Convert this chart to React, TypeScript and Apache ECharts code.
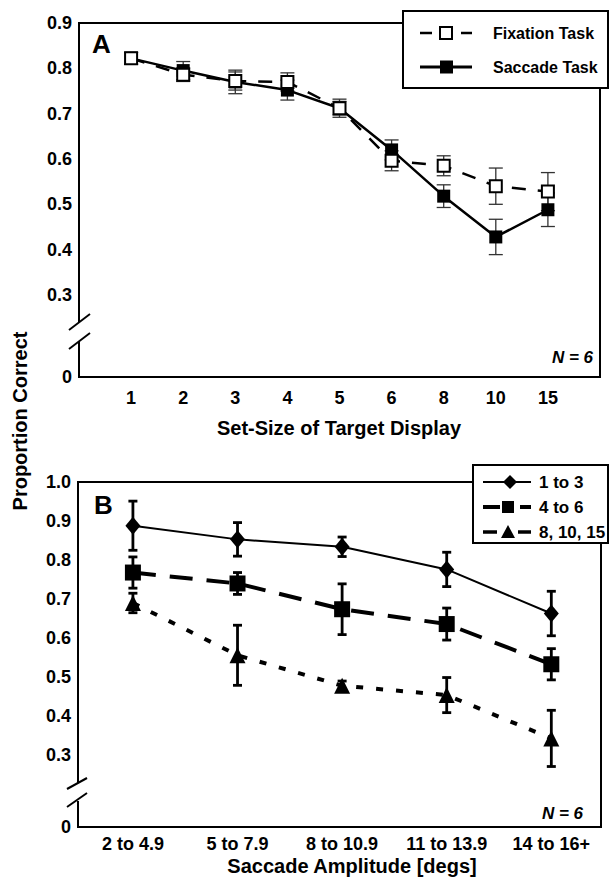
import React, { useEffect, useRef } from "react";
import * as echarts from "echarts";

// ---------- Panel A data ----------
const setSizes = ["1", "2", "3", "4", "5", "6", "8", "10", "15"];
const fixationMean = [0.822, 0.786, 0.772, 0.77, 0.712, 0.596, 0.585, 0.54, 0.528];
const fixationErr = [0.013, 0.015, 0.02, 0.02, 0.015, 0.022, 0.022, 0.04, 0.042];
const saccadeMean = [0.822, 0.795, 0.77, 0.752, 0.712, 0.62, 0.518, 0.428, 0.488];
const saccadeErr = [0.013, 0.02, 0.026, 0.022, 0.02, 0.022, 0.025, 0.039, 0.037];

// ---------- Panel B data ----------
const amplitudes = ["2 to 4.9", "5 to 7.9", "8 to 10.9", "11 to 13.9", "14 to 16+"];
const small13Mean = [0.888, 0.853, 0.834, 0.776, 0.663];
const small13Err = [0.063, 0.043, 0.025, 0.044, 0.057];
const mid46Mean = [0.768, 0.74, 0.674, 0.636, 0.533];
const mid46Err = [0.04, 0.028, 0.065, 0.041, 0.04];
const large81015Mean = [0.69, 0.556, 0.478, 0.454, 0.343];
const large81015Err = [0.025, 0.077, 0.012, 0.045, 0.072];

// ---------- tick labels ----------
const yTicksA = [0.3, 0.4, 0.5, 0.6, 0.7, 0.8, 0.9];
const yTicksB = [0.3, 0.4, 0.5, 0.6, 0.7, 0.8, 0.9, 1.0];
const zeroLabel = "0";
const yBreakMinA = 0.119; // drawn position of the "0" after the axis break
const yBreakMinB = 0.116;

const FONT = "'Liberation Sans', Arial, Helvetica, sans-serif";

function errRender(capHalf: number, width: number, color: string) {
  return (params: any, api: any) => {
    const x = api.value(0);
    const lo = api.coord([x, api.value(1)]);
    const hi = api.coord([x, api.value(2)]);
    const style = { stroke: color, lineWidth: width, fill: "none" };
    return {
      type: "group",
      children: [
        { type: "line", shape: { x1: lo[0], y1: lo[1], x2: hi[0], y2: hi[1] }, style },
        { type: "line", shape: { x1: lo[0] - capHalf, y1: lo[1], x2: lo[0] + capHalf, y2: lo[1] }, style },
        { type: "line", shape: { x1: hi[0] - capHalf, y1: hi[1], x2: hi[0] + capHalf, y2: hi[1] }, style },
      ],
    };
  };
}

function txt(text: string, x: number, y: number, size: number, align = "left", extra: any = {}) {
  return {
    type: "text",
    x,
    y,
    z: 120,
    ...extra,
    style: {
      text,
      fill: "#000",
      font: `${extra.italic ? "italic " : ""}bold ${size}px ${FONT}`,
      align,
      verticalAlign: "middle",
      textAlign: align,
      textVerticalAlign: "middle",
    },
  };
}

function ln(x1: number, y1: number, x2: number, y2: number, w: number, z = 110) {
  return { type: "line", z, shape: { x1, y1, x2, y2 }, style: { stroke: "#000", lineWidth: w } };
}

export default function App() {
  const ref = useRef<HTMLDivElement>(null);

  useEffect(() => {
    if (!ref.current) return;
    const chart = echarts.init(ref.current, null, { renderer: "svg" });

    const xLabelStyle = { fontFamily: FONT, fontWeight: "bold", fontSize: 18, color: "#000" };

    const option: any = {
      animation: false,
      backgroundColor: "#fff",
      grid: [
        { left: 79, top: 23, width: 521, height: 354, show: true, borderColor: "#000", borderWidth: 2, backgroundColor: "transparent" },
        { left: 78, top: 482, width: 523, height: 345, show: true, borderColor: "#000", borderWidth: 2, backgroundColor: "transparent" },
      ],
      xAxis: [
        {
          gridIndex: 0,
          type: "value",
          min: 0,
          max: setSizes.length + 1,
          axisLine: { show: false },
          axisTick: { show: false },
          splitLine: { show: false },
          axisLabel: {
            ...xLabelStyle,
            margin: 12,
            customValues: setSizes.map((_, i) => i + 1),
            formatter: (v: number) => setSizes[Math.round(v) - 1] ?? "",
          },
        },
        {
          gridIndex: 1,
          type: "value",
          min: -0.525,
          max: amplitudes.length - 0.525,
          axisLine: { show: false },
          axisTick: { show: false },
          splitLine: { show: false },
          axisLabel: {
            ...xLabelStyle,
            margin: 8,
            customValues: amplitudes.map((_, i) => i),
            formatter: (v: number) => amplitudes[Math.round(v)] ?? "",
          },
        },
      ],
      yAxis: [
        {
          gridIndex: 0,
          type: "value",
          min: yBreakMinA,
          max: 0.9,
          axisLine: { show: false },
          axisTick: { show: false },
          splitLine: { show: false },
          axisLabel: {
            ...xLabelStyle,
            margin: 7,
            customValues: [yBreakMinA, ...yTicksA],
            formatter: (v: number) => (v < 0.2 ? zeroLabel : v.toFixed(1)),
          },
        },
        {
          gridIndex: 1,
          type: "value",
          min: yBreakMinB,
          max: 1.0,
          axisLine: { show: false },
          axisTick: { show: false },
          splitLine: { show: false },
          axisLabel: {
            ...xLabelStyle,
            margin: 7,
            customValues: [yBreakMinB, ...yTicksB],
            formatter: (v: number) => (v < 0.2 ? zeroLabel : v.toFixed(1)),
          },
        },
      ],
      series: [
        // ---- Panel A ----
        {
          type: "custom",
          xAxisIndex: 0,
          yAxisIndex: 0,
          z: 1,
          renderItem: errRender(7, 1.3, "#333"),
          encode: { x: 0, y: [1, 2] },
          data: saccadeMean.map((m, i) => [i + 1, m - saccadeErr[i], m + saccadeErr[i]]),
        },
        {
          type: "custom",
          xAxisIndex: 0,
          yAxisIndex: 0,
          z: 1,
          renderItem: errRender(7, 1.3, "#333"),
          encode: { x: 0, y: [1, 2] },
          data: fixationMean.map((m, i) => [i + 1, m - fixationErr[i], m + fixationErr[i]]),
        },
        {
          name: "Saccade Task",
          type: "line",
          xAxisIndex: 0,
          yAxisIndex: 0,
          z: 3,
          data: saccadeMean.map((m, i) => [i + 1, m]),
          symbol: "rect",
          symbolSize: 13,
          lineStyle: { color: "#000", width: 2.5 },
          itemStyle: { color: "#000" },
        },
        {
          name: "Fixation Task",
          type: "line",
          xAxisIndex: 0,
          yAxisIndex: 0,
          z: 4,
          data: fixationMean.map((m, i) => [i + 1, m]),
          symbol: "rect",
          symbolSize: 12,
          lineStyle: { color: "#000", width: 2.5, type: [14, 12] },
          itemStyle: { color: "#fff", borderColor: "#000", borderWidth: 2 },
        },
        // ---- Panel B ----
        {
          type: "custom",
          xAxisIndex: 1,
          yAxisIndex: 1,
          z: 1,
          renderItem: errRender(4.5, 2.8, "#000"),
          encode: { x: 0, y: [1, 2] },
          data: small13Mean.map((m, i) => [i, m - small13Err[i], m + small13Err[i]]),
        },
        {
          type: "custom",
          xAxisIndex: 1,
          yAxisIndex: 1,
          z: 1,
          renderItem: errRender(4.5, 2.8, "#000"),
          encode: { x: 0, y: [1, 2] },
          data: mid46Mean.map((m, i) => [i, m - mid46Err[i], m + mid46Err[i]]),
        },
        {
          type: "custom",
          xAxisIndex: 1,
          yAxisIndex: 1,
          z: 1,
          renderItem: errRender(4.5, 2.8, "#000"),
          encode: { x: 0, y: [1, 2] },
          data: large81015Mean.map((m, i) => [i, m - large81015Err[i], m + large81015Err[i]]),
        },
        {
          name: "1 to 3",
          type: "line",
          xAxisIndex: 1,
          yAxisIndex: 1,
          z: 3,
          data: small13Mean.map((m, i) => [i, m]),
          symbol: "diamond",
          symbolSize: [15, 18],
          lineStyle: { color: "#000", width: 2 },
          itemStyle: { color: "#000" },
        },
        {
          name: "4 to 6",
          type: "line",
          xAxisIndex: 1,
          yAxisIndex: 1,
          z: 3,
          data: mid46Mean.map((m, i) => [i, m]),
          symbol: "rect",
          symbolSize: 16,
          lineStyle: { color: "#000", width: 4, type: [23, 14] },
          itemStyle: { color: "#000" },
        },
        {
          name: "8, 10, 15",
          type: "line",
          xAxisIndex: 1,
          yAxisIndex: 1,
          z: 3,
          data: large81015Mean.map((m, i) => [i, m]),
          symbol: "triangle",
          symbolSize: 16,
          lineStyle: { color: "#000", width: 4, type: [7, 13] },
          itemStyle: { color: "#000" },
        },
      ],
      graphic: [
        // axis breaks
        { type: "rect", z: 105, shape: { x: 75, y: 322, width: 8, height: 19 }, style: { fill: "#fff" } },
        ln(69, 330, 90, 314, 2),
        ln(69, 349, 90, 333, 2),
        { type: "rect", z: 105, shape: { x: 74, y: 783, width: 8, height: 18 }, style: { fill: "#fff" } },
        ln(67, 789, 87, 778, 2),
        ln(67, 807, 87, 793, 2),
        // panel letters / N
        txt("A", 92, 44, 26),
        txt("B", 94, 505, 26),
        txt("N = 6", 593, 357, 17, "right", { italic: true }),
        txt("N = 6", 583, 813, 17, "right", { italic: true }),
        // axis titles
        txt("Set-Size of Target Display", 339, 428, 20, "center"),
        txt("Saccade Amplitude [degs]", 352, 866, 20, "center"),
        txt("Proportion Correct", 20, 421, 20, "center", { rotation: Math.PI / 2 }),
        // legend A
        { type: "rect", z: 106, shape: { x: 403, y: 11, width: 205, height: 77 }, style: { fill: "#fff", stroke: "#000", lineWidth: 2 } },
        ln(420, 33, 432, 33, 2.5),
        ln(461, 33, 472, 33, 2.5),
        { type: "rect", z: 111, shape: { x: 440, y: 27, width: 12, height: 12 }, style: { fill: "#fff", stroke: "#000", lineWidth: 2 } },
        ln(420, 67, 472, 67, 3),
        { type: "rect", z: 111, shape: { x: 440, y: 60.5, width: 13, height: 13 }, style: { fill: "#000" } },
        txt("Fixation Task", 493, 33, 16),
        txt("Saccade Task", 493, 67, 16),
        // legend B
        { type: "rect", z: 106, shape: { x: 473, y: 465, width: 135, height: 78 }, style: { fill: "#fff", stroke: "#000", lineWidth: 2 } },
        ln(483, 482, 531, 482, 2),
        { type: "polygon", z: 111, shape: { points: [[510, 475], [517, 482], [510, 489], [503, 482]] }, style: { fill: "#000" } },
        ln(483, 507, 500, 507, 4),
        ln(520, 507, 531, 507, 4),
        { type: "rect", z: 111, shape: { x: 502, y: 501, width: 12, height: 12 }, style: { fill: "#000" } },
        ln(483, 532, 497, 532, 3.5),
        ln(518, 532, 531, 532, 3.5),
        { type: "polygon", z: 111, shape: { points: [[508, 525], [515, 538], [501, 538]] }, style: { fill: "#000" } },
        txt("1 to 3", 539, 482, 17),
        txt("4 to 6", 539, 507, 17),
        txt("8, 10, 15", 539, 532, 17),
      ],
    };

    chart.setOption(option);
    return () => chart.dispose();
  }, []);

  return (
    <div
      ref={ref}
      style={{ position: "fixed", left: 0, top: 0, width: 610, height: 880, background: "#fff" }}
    />
  );
}
